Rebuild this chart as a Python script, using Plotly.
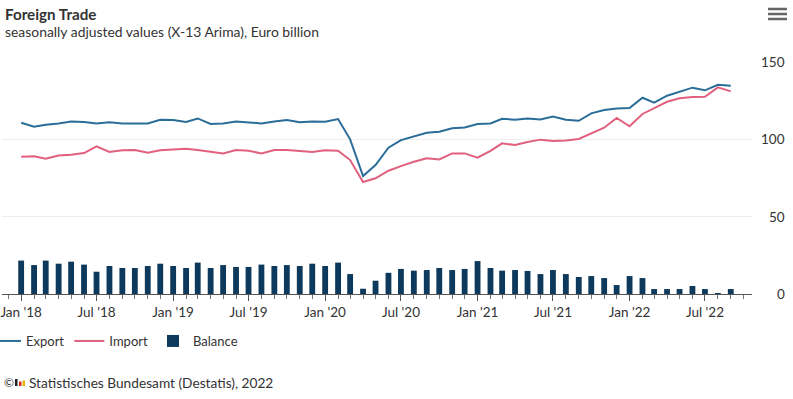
import pandas as pd
import plotly.graph_objects as go

months = pd.date_range("2018-01-01", periods=57, freq="MS")

export = [110.7, 108.2, 109.5, 110.3, 111.6, 111.2, 110.3, 111.0, 110.3, 110.3,
          110.3, 112.7, 112.5, 111.2, 113.5, 109.9, 110.3, 111.6, 111.0, 110.3,
          111.6, 112.5, 111.0, 111.6, 111.4, 113.1, 100.0, 76.3, 83.4, 94.6,
          99.5, 102.1, 104.3, 104.9, 107.1, 107.7, 109.9, 110.3, 113.3, 112.7,
          113.5, 112.9, 114.8, 112.7, 112.0, 116.8, 118.9, 120.0, 120.2, 126.9,
          123.7, 128.2, 130.6, 133.4, 131.7, 135.3, 134.7]

imports = [88.8, 89.0, 87.5, 89.6, 90.1, 91.1, 95.5, 91.8, 92.9, 93.1,
           91.4, 92.9, 93.5, 93.9, 93.1, 92.2, 90.9, 93.1, 92.6, 90.9,
           93.1, 93.1, 92.2, 91.8, 92.9, 92.6, 86.6, 72.4, 74.8, 79.7,
           82.7, 85.5, 87.7, 87.0, 90.9, 90.9, 88.1, 92.6, 97.4, 96.3,
           98.3, 99.8, 98.9, 99.3, 100.2, 103.9, 107.5, 113.8, 108.4, 116.4,
           120.0, 124.3, 126.5, 127.3, 127.5, 133.6, 131.0]

balance = [21.6, 18.7, 21.6, 19.6, 20.9, 19.0, 14.4, 18.1, 16.8, 16.8,
           18.1, 19.6, 18.1, 16.8, 20.3, 16.8, 18.7, 17.5, 17.5, 19.0,
           18.1, 18.7, 18.1, 19.6, 18.1, 20.3, 12.9, 3.4, 8.6, 13.7,
           16.2, 15.1, 15.5, 16.8, 15.5, 16.2, 21.3, 16.8, 15.1, 15.5,
           14.9, 12.9, 15.5, 12.9, 11.0, 11.6, 10.3, 5.8, 11.6, 10.3,
           3.2, 3.2, 3.2, 5.2, 3.2, 0.6, 3.2]

y_ticks = [0, 50, 100, 150]
x_tick_dates = pd.date_range("2018-01-01", "2022-07-01", freq="6MS")

TXT = "#333333"
FONT = "Lato"

fig = go.Figure()
fig.add_trace(go.Bar(x=months, y=balance, name="Balance", marker_color="#0d3a5c",
                     width=1000 * 60 * 60 * 24 * 14, marker_line_width=0, legendrank=3))
fig.add_trace(go.Scatter(x=months, y=export, name="Export", mode="lines",
                         line=dict(color="#2a6d98", width=2), legendrank=1))
fig.add_trace(go.Scatter(x=months, y=imports, name="Import", mode="lines",
                         line=dict(color="#e0607e", width=2), legendrank=2))

L, R, T, B = 2, 41, 62, 105
W, H = 793, 399
pw, ph = W - L - R, H - T - B

def px(X):
    return (X - L) / pw

def py(Y):
    return (H - B - Y) / ph

annotations = [
    dict(text="<b>Foreign Trade</b>", x=px(3), y=py(14), xref="paper", yref="paper",
         xanchor="left", yanchor="middle", showarrow=False,
         font=dict(size=15.2, color=TXT, family=FONT)),
    dict(text="seasonally adjusted values (X-13 Arima), Euro billion", x=px(3), y=py(32),
         xref="paper", yref="paper", xanchor="left", yanchor="middle", showarrow=False,
         font=dict(size=13.9, color=TXT, family=FONT)),
    dict(text="©", x=px(2), y=py(382), xref="paper", yref="paper",
         xanchor="left", yanchor="middle", showarrow=False,
         font=dict(size=12, color=TXT, family=FONT)),
    dict(text="Statistisches Bundesamt (Destatis), 2022", x=px(27), y=py(382),
         xref="paper", yref="paper", xanchor="left", yanchor="middle", showarrow=False,
         font=dict(size=13.7, color=TXT, family=FONT)),
]
for v in y_ticks:
    annotations.append(dict(text=str(v), x=1, xshift=35, y=v, xref="paper", yref="y",
                            xanchor="right", yanchor="middle", showarrow=False,
                            font=dict(size=13.5, color=TXT, family=FONT)))

shapes = []
for Y in (9, 14, 19):
    shapes.append(dict(type="line", xref="paper", yref="paper", x0=px(768), x1=px(787),
                       y0=py(Y), y1=py(Y), line=dict(color="#666666", width=2.5)))
for x0, x1, y0, col in ((15, 17.5, 379, "#222222"), (19, 21.5, 381.5, "#d52b1e"),
                        (22.5, 25, 380.5, "#e8b400")):
    shapes.append(dict(type="rect", xref="paper", yref="paper", x0=px(x0), x1=px(x1),
                       y0=py(386), y1=py(y0), line=dict(width=0), fillcolor=col))

fig.update_layout(
    width=W, height=H,
    margin=dict(l=L, r=R, t=T, b=B, pad=0, autoexpand=False),
    paper_bgcolor="white", plot_bgcolor="white",
    font=dict(family=FONT, size=13, color=TXT),
    showlegend=True,
    legend=dict(orientation="h", x=-16 / pw, xanchor="left", y=py(341), yanchor="middle",
                traceorder="normal", itemwidth=30, font=dict(size=13, color=TXT),
                bgcolor="rgba(0,0,0,0)"),
    annotations=annotations,
    shapes=shapes,
    xaxis=dict(type="date", range=["2017-11-16", "2022-10-22"],
               tickvals=list(x_tick_dates), tickformat="%b '%y",
               ticks="outside", ticklen=6, tickcolor="#555555", tickwidth=1,
               showline=True, linecolor="#555555", linewidth=1,
               showgrid=False, zeroline=False, automargin=False,
               tickfont=dict(size=13.5, color=TXT),
               minor=dict(dtick="M1", ticks="outside", ticklen=4, tickcolor="#777777",
                          showgrid=False)),
    yaxis=dict(range=[0, 150], tickvals=y_ticks, showticklabels=False,
               showgrid=True, gridcolor="#eeeeee", gridwidth=1, zeroline=False,
               side="right", fixedrange=True, automargin=False),
)

fig.write_html("out.html", config={"displayModeBar": False},
               post_script="document.body.style.margin='0';")
